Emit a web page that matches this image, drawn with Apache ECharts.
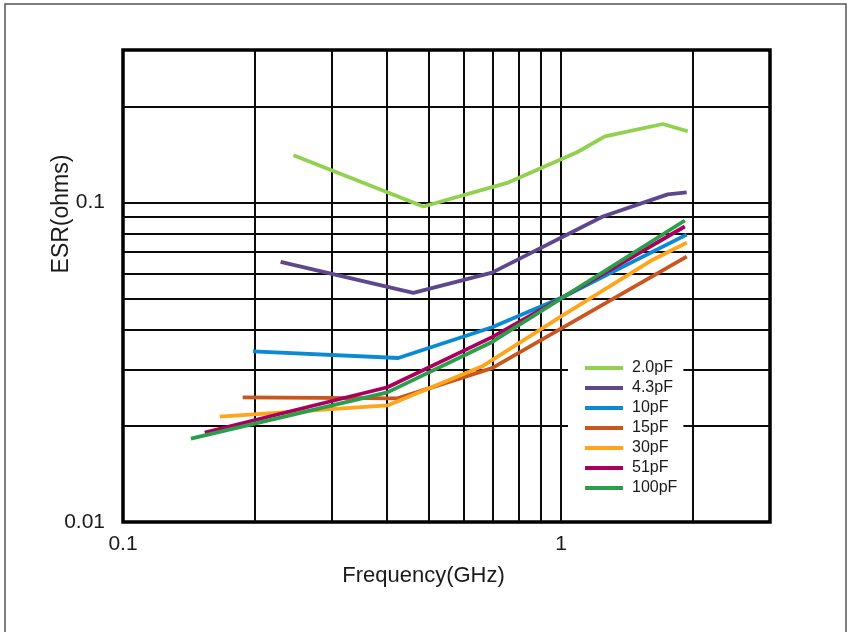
<!DOCTYPE html>
<html>
<head>
<meta charset="utf-8">
<script src="https://cdn.jsdelivr.net/npm/echarts@6/dist/echarts.min.js"></script>
<style>
html,body{margin:0;padding:0;background:#fff;}
#chart{width:849px;height:632px;}
</style>
</head>
<body>
<div id="chart"></div>
<script>
// ---- data (Frequency in GHz, ESR in ohms) ----
const seriesNames = ['2.0pF', '4.3pF', '10pF', '15pF', '30pF', '51pF', '100pF'];
const freq_2p0 = [0.245, 0.485, 0.76, 1.088, 1.26, 1.708, 1.947];
const esr_2p0  = [0.1405, 0.0971, 0.1156, 0.1436, 0.161, 0.176, 0.167];
const freq_4p3 = [0.229, 0.46, 0.696, 1.246, 1.752, 1.936];
const esr_4p3  = [0.0652, 0.0521, 0.0603, 0.0904, 0.106, 0.1075];
const freq_10  = [0.198, 0.425, 0.696, 1.011, 1.273, 1.936];
const esr_10   = [0.0342, 0.0326, 0.0407, 0.0506, 0.0594, 0.0793];
const freq_15  = [0.1876, 0.4236, 0.696, 1.936];
const esr_15   = [0.02455, 0.02437, 0.0303, 0.0677];
const freq_30  = [0.1663, 0.4015, 0.661, 1.011, 1.62, 1.936];
const esr_30   = [0.02138, 0.02316, 0.0307, 0.0444, 0.0662, 0.0748];
const freq_51  = [0.1537, 0.4015, 0.696, 0.995, 1.917];
const esr_51   = [0.01906, 0.0264, 0.0379, 0.0499, 0.0841];
const freq_100 = [0.1429, 0.4015, 0.696, 1.004, 1.917];
const esr_100  = [0.01824, 0.02545, 0.0366, 0.0502, 0.0878];
const colors = ['#92D050', '#5E478C', '#0A8AD4', '#C8561E', '#FFA51C', '#A8005C', '#2A9E4A'];
// grid lines
const xGridValues = [0.2, 0.3, 0.4, 0.5, 0.6, 0.7, 0.8, 0.9, 1, 2];
const yGridValues = [0.02, 0.03, 0.04, 0.05, 0.06, 0.07, 0.08, 0.09, 0.1, 0.2];
const xTickLabels = [0.1, 1];
const yTickLabels = [0.01, 0.1];
const xMin = 0.1, xMax = 3, yMin = 0.01, yMax = 0.3;

const freqs = [freq_2p0, freq_4p3, freq_10, freq_15, freq_30, freq_51, freq_100];
const esrs  = [esr_2p0, esr_4p3, esr_10, esr_15, esr_30, esr_51, esr_100];

const FONT = '"Liberation Sans", Arial, sans-serif';

function fmt(list){
  return function(v){
    for (const t of list) { if (Math.abs(Math.log10(v) - Math.log10(t)) < 1e-6) return String(t); }
    return '';
  };
}

const gridLineData = xGridValues.map(v => ({xAxis: v})).concat(yGridValues.map(v => ({yAxis: v})));

const series = seriesNames.map((name, i) => {
  const s = {
    name: name,
    type: 'line',
    data: freqs[i].map((f, j) => [f, esrs[i][j]]),
    showSymbol: false,
    symbol: 'none',
    lineStyle: {color: colors[i], width: 3.8},
    itemStyle: {color: colors[i]},
    z: 3,
    animation: false
  };
  if (i === 0) {
    s.markLine = {
      silent: true,
      z: 1,
      symbol: ['none', 'none'],
      label: {show: false},
      animation: false,
      lineStyle: {color: '#0a0a0a', width: 2, type: 'solid'},
      emphasis: {disabled: true},
      data: gridLineData
    };
  }
  return s;
});

const chart = echarts.init(document.getElementById('chart'), null, {renderer: 'canvas'});
chart.setOption({
  animation: false,
  backgroundColor: '#fff',
  grid: {left: 123, top: 50, width: 647, height: 472, show: true, borderColor: '#000', borderWidth: 3.5, backgroundColor: 'transparent'},
  legend: {
    data: seriesNames,
    orient: 'vertical',
    left: 568, top: 354,
    padding: [6, 6, 6, 17],
    backgroundColor: '#fff',
    itemWidth: 38, itemHeight: 4, itemGap: 4,
    icon: 'rect',
    selectedMode: false,
    textStyle: {fontFamily: FONT, fontSize: 16, color: '#1a1a1a', lineHeight: 16, padding: [0, 0, 0, 4]}
  },
  xAxis: {
    type: 'log', logBase: 10, min: xMin, max: xMax,
    name: 'Frequency(GHz)', nameLocation: 'middle', nameGap: 43,
    nameTextStyle: {fontFamily: FONT, fontSize: 22, color: '#1a1a1a', padding: [0, 46, 0, 0]},
    axisLine: {show: false}, axisTick: {show: false}, splitLine: {show: false},
    axisLabel: {fontFamily: FONT, fontSize: 21, color: '#1a1a1a', margin: 12, showMaxLabel: false, formatter: fmt(xTickLabels)}
  },
  yAxis: {
    type: 'log', logBase: 10, min: yMin, max: yMax,
    axisLine: {show: false}, axisTick: {show: false}, splitLine: {show: false},
    axisLabel: {fontFamily: FONT, fontSize: 21, color: '#1a1a1a', margin: 18, showMaxLabel: false, formatter: fmt(yTickLabels)}
  },
  graphic: [
    {type: 'rect', z: -1, silent: true, shape: {x: 5, y: 4, width: 841, height: 700}, style: {fill: 'none', stroke: '#555', lineWidth: 1.5}},
    {type: 'text', x: 62, y: 214, rotation: Math.PI / 2, silent: true,
     style: {text: 'ESR(ohms)', fontFamily: FONT, fontSize: 23, fill: '#1a1a1a', align: 'center', verticalAlign: 'middle'}}
  ],
  series: series
});
</script>
</body>
</html>
